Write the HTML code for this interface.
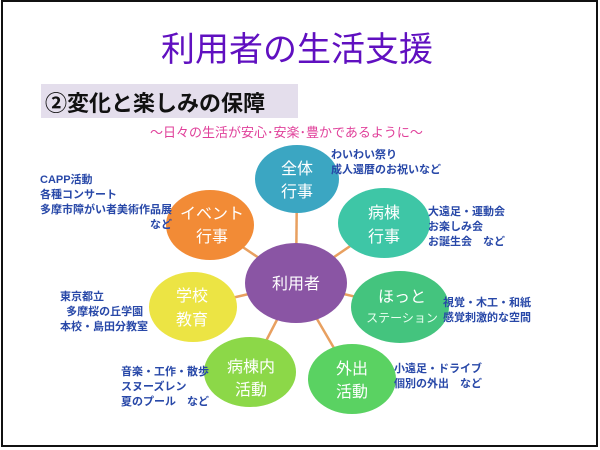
<!DOCTYPE html>
<html><head><meta charset="utf-8"><style>
body{margin:0;width:600px;height:450px;background:#fff;overflow:hidden;font-family:"Liberation Sans","Noto Sans CJK JP",sans-serif}
.frame{position:absolute;left:1px;top:0;width:597px;height:447px;border:2px solid #111;box-sizing:border-box}
.t{position:absolute;white-space:nowrap}
.lab{position:absolute;color:#2848a8;font-weight:bold;font-size:11px;line-height:15px;white-space:nowrap}
</style></head><body>
<div class="frame"></div>
<div class="t" style="left:0;width:594px;text-align:center;top:22px;font-size:34px;color:#6010c0;">利用者の生活支援</div>
<div style="position:absolute;left:41px;top:84px;width:257px;height:34px;background:#e4deec"></div>
<div class="t" style="left:45px;top:86px;font-size:22px;font-weight:bold;color:#111">②変化と楽しみの保障</div>
<div class="t" style="left:150px;top:122px;font-size:13px;color:#e0409a">～日々の生活が安心･安楽･豊かであるように～</div>
<svg width="600" height="450" style="position:absolute;left:0;top:0" font-family="Liberation Sans, Noto Sans CJK JP, sans-serif">
<g stroke="#e8a060" stroke-width="2.5">
<line x1="296" y1="283" x2="297" y2="179"/><line x1="296" y1="283" x2="210" y2="225"/>
<line x1="296" y1="283" x2="384" y2="223"/><line x1="296" y1="283" x2="193" y2="307"/>
<line x1="296" y1="283" x2="400" y2="307"/><line x1="296" y1="283" x2="250" y2="372"/>
<line x1="296" y1="283" x2="352" y2="379"/></g>
<ellipse cx="297" cy="179" rx="42" ry="34" fill="#3ba6c2"/>
<ellipse cx="210" cy="225" rx="44" ry="35" fill="#f28b36"/>
<ellipse cx="384" cy="223" rx="46" ry="35" fill="#3ec6a6"/>
<ellipse cx="296" cy="283" rx="51" ry="40" fill="#8a55a4"/>
<ellipse cx="193" cy="307" rx="44" ry="35" fill="#ece444"/>
<ellipse cx="400" cy="307" rx="49" ry="36" fill="#44c47e"/>
<ellipse cx="250" cy="372" rx="46" ry="35" fill="#8cd848"/>
<ellipse cx="352" cy="379" rx="44" ry="35" fill="#5ad262"/>
<g fill="#fff" font-size="16" text-anchor="middle">
<text x="297" y="174">全体</text><text x="297" y="197">行事</text>
<text x="212" y="219">イベント</text><text x="212" y="242">行事</text>
<text x="384" y="218">病棟</text><text x="384" y="242">行事</text>
<text x="296" y="289">利用者</text>
<text x="192" y="301">学校</text><text x="192" y="325">教育</text>
<text x="402" y="302">ほっと</text><text x="402" y="322" font-size="12" fill="#e8fff0">ステーション</text>
<text x="251" y="372">病棟内</text><text x="251" y="395">活動</text>
<text x="352" y="374">外出</text><text x="352" y="397">活動</text>
</g></svg>
<div class="lab" style="left:40px;top:173px">CAPP活動<br>各種コンサート<br>多摩市障がい者美術作品展<br><span style="padding-left:110px">など</span></div>
<div class="lab" style="left:331px;top:148px">わいわい祭り<br>成人還暦のお祝いなど</div>
<div class="lab" style="left:428px;top:205px">大遠足・運動会<br>お楽しみ会<br>お誕生会　など</div>
<div class="lab" style="left:60px;top:290px">東京都立<br>&nbsp;&nbsp;多摩桜の丘学園<br>本校・島田分教室</div>
<div class="lab" style="left:443px;top:296px">視覚・木工・和紙<br>感覚刺激的な空間</div>
<div class="lab" style="left:121px;top:365px">音楽・工作・散歩<br>スヌーズレン<br>夏のプール　など</div>
<div class="lab" style="left:394px;top:362px">小遠足・ドライブ<br>個別の外出　など</div>
</body></html>
